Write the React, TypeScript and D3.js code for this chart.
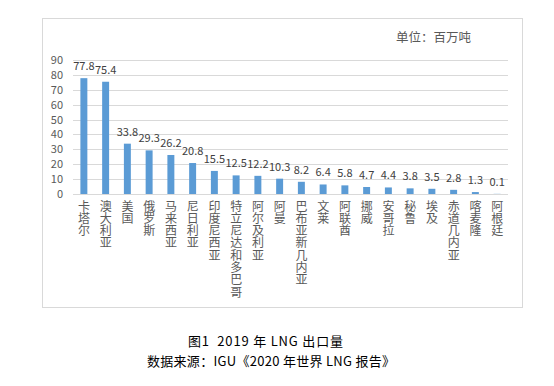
import React from "react";
import * as d3 from "d3";

const categories = ["卡塔尔", "澳大利亚", "美国", "俄罗斯", "马来西亚", "尼日利亚", "印度尼西亚", "特立尼达和多巴哥", "阿尔及利亚", "阿曼", "巴布亚新几内亚", "文莱", "阿联酋", "挪威", "安哥拉", "秘鲁", "埃及", "赤道几内亚", "喀麦隆", "阿根廷"];
const values = [77.8, 75.4, 33.8, 29.3, 26.2, 20.8, 15.5, 12.5, 12.2, 10.3, 8.2, 6.4, 5.8, 4.7, 4.4, 3.8, 3.5, 2.8, 1.3, 0.1];
const yTicks = [0, 10, 20, 30, 40, 50, 60, 70, 80, 90];
const unitLabel = "单位：百万吨";
const caption1 = "图1  2019 年 LNG 出口量";
const caption2 = "数据来源：IGU《2020 年世界 LNG 报告》";

export default function App() {
  const W = 554, H = 386;
  const left = 73, right = 508, top = 60, bottom = 194;
  const x = d3.scaleBand<string>().domain(categories).range([left, right]).paddingInner(0.68).paddingOuter(0.34);
  const y = d3.scaleLinear().domain([0, 90]).range([bottom, top]);
  const font = "'Noto Sans CJK SC', 'Noto Sans', sans-serif";
  const textColor = "#595959";
  return (
    <svg width={W} height={H} style={{ position: "absolute", left: 0, top: 0, background: "#fff" }} fontFamily={font}>
      <rect x={42.5} y={18.5} width={480} height={289} fill="#fff" stroke="#d9d9d9" strokeWidth={1} />
      <text x={396} y={42} fontSize={12.5} fill={textColor}>{unitLabel}</text>
      {yTicks.map((t) => (
        <g key={t}>
          <line x1={left} x2={right} y1={Math.round(y(t)) + 0.5} y2={Math.round(y(t)) + 0.5} stroke="#d9d9d9" strokeWidth={1} />
          <text x={63} y={y(t) + 4} fontSize={11} fill={textColor} textAnchor="end">{t}</text>
        </g>
      ))}
      {categories.map((c, i) => {
        const bx = x(c)!;
        const bw = x.bandwidth();
        const v = values[i];
        const cx = bx + bw / 2;
        return (
          <g key={c}>
            <rect x={bx} y={y(v)} width={bw} height={bottom - y(v)} fill="#5B9BD5" />
            <text x={cx} y={y(v) - 8} fontSize={11} fill="#404040" textAnchor="middle">{v.toFixed(1)}</text>
            <text x={cx} y={200} fontSize={12} fill={textColor} letterSpacing={0.3}
              style={{ writingMode: "vertical-rl", textOrientation: "upright" } as any}>{c}</text>
          </g>
        );
      })}
      <text x={188} y={346} fontSize={13} fill="#000" textLength={155} lengthAdjust="spacing" style={{ whiteSpace: "pre" }}>{caption1}</text>
      <text x={147} y={366} fontSize={13} fill="#000" textLength={248} lengthAdjust="spacing" style={{ whiteSpace: "pre" }}>{caption2}</text>
    </svg>
  );
}
